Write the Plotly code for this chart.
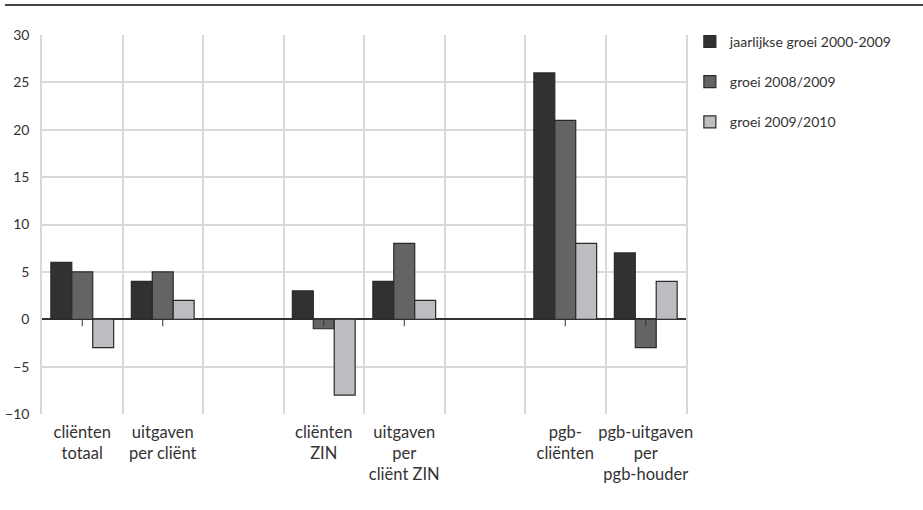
import plotly.graph_objects as go

categories = ["cliënten<br>totaal", "uitgaven<br>per cliënt", " ", "cliënten<br>ZIN",
              "uitgaven<br>per<br>cliënt ZIN", "  ", "pgb-<br>cliënten",
              "pgb-uitgaven<br>per<br>pgb-houder"]
series_names = ["jaarlijkse groei 2000-2009", "groei 2008/2009", "groei 2009/2010"]
jaarlijks = [6, 4, None, 3, 4, None, 26, 7]
groei_0809 = [5, 5, None, -1, 8, None, 21, -3]
groei_0910 = [-3, 2, None, -8, 2, None, 8, 4]
colors = ["#323031", "#646466", "#bcbdc0"]
y_ticks = [-10, -5, 0, 5, 10, 15, 20, 25, 30]
y_ticktext = ["−10", "−5", "0", "5", "10", "15", "20", "25", "30"]

fig = go.Figure()
for i, (name, vals) in enumerate(zip(series_names, [jaarlijks, groei_0809, groei_0910])):
    fig.add_trace(go.Bar(
        x=categories, y=vals, name=name, legendgroup=f"g{i}",
        marker=dict(color=colors[i], line=dict(color="#2a2a2a", width=1.2)),
    ))

# small ticks below the zero line at the non-empty categories
for c in categories:
    if c.strip():
        fig.add_shape(type="line", xref="x", yref="y", x0=c, x1=c,
                      ysizemode="pixel", yanchor=0, y0=0, y1=-7,
                      line=dict(color="#333", width=1))

# top rule
fig.add_shape(type="line", xref="paper", yref="paper", x0=-0.0575, x1=1.37,
              y0=1.079, y1=1.079, line=dict(color="#444", width=2))

fig.update_layout(
    width=923, height=510,
    margin=dict(l=42, r=237, t=35, b=96),
    paper_bgcolor="white", plot_bgcolor="white",
    font=dict(family="Lato, Noto Sans, sans-serif", size=14, color="#333"),
    barmode="group", bargap=0.22, bargroupgap=0,
    showlegend=True,
    legend=dict(x=1.006, y=1.024, xanchor="left", yanchor="top",
                tracegroupgap=19, font=dict(size=14), itemwidth=30),
    xaxis=dict(type="category", tickson="boundaries", showgrid=True,
               gridcolor="#d9d9d9", gridwidth=1.5, ticks="", showline=False,
               zeroline=False, tickfont=dict(size=16.5), tickangle=0,
               automargin=False, ticklabelstandoff=6),
    yaxis=dict(range=[-10, 30], tickvals=y_ticks, ticktext=y_ticktext,
               showgrid=True, gridcolor="#d9d9d9", gridwidth=1.5,
               zeroline=True, zerolinecolor="#333", zerolinewidth=1.5,
               ticks="", showline=True, mirror=True, linecolor="#d9d9d9",
               linewidth=1.5, ticklabelstandoff=8, automargin=False),
)

fig.write_html("out.html", config={"displayModeBar": False},
               post_script="document.body.style.margin='0';")
